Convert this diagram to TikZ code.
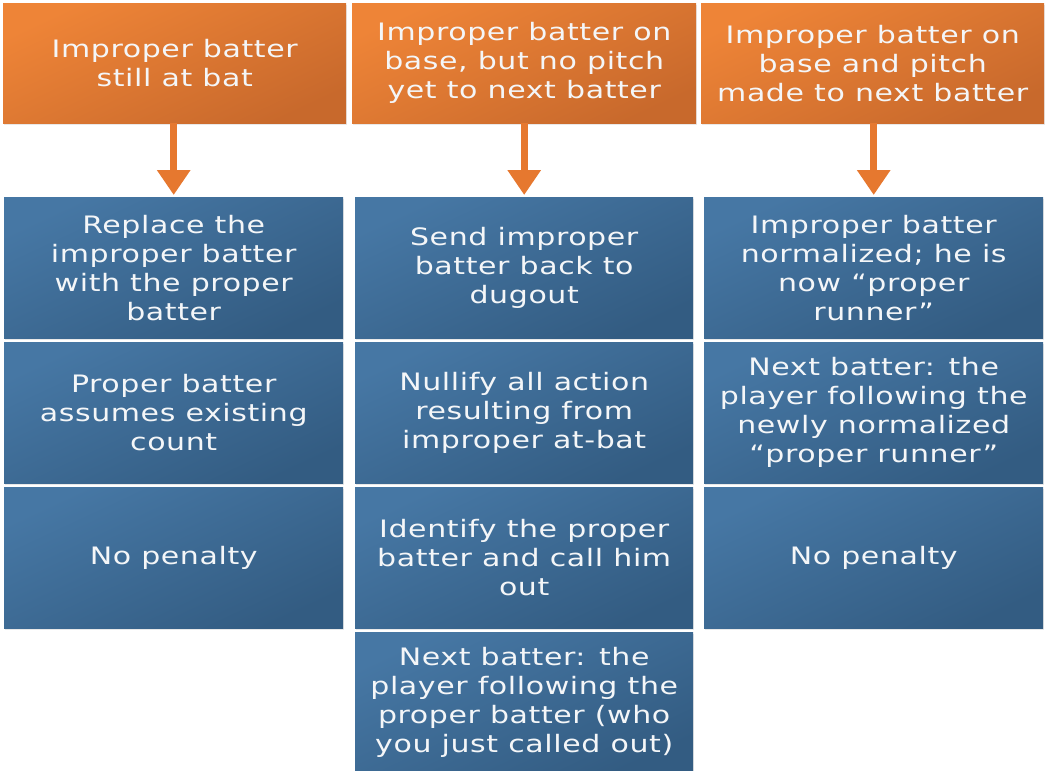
\documentclass[tikz,border=0pt]{standalone}
\usepackage{fontspec}
\setmainfont{DejaVu Sans}[FakeStretch=1.25, LetterSpace=2.5]
\usetikzlibrary{arrows.meta,shadows}
\definecolor{orA}{HTML}{EE8437}
\definecolor{orB}{HTML}{C8692C}
\definecolor{blA}{HTML}{4677A4}
\definecolor{blB}{HTML}{335C82}
\definecolor{arr}{HTML}{E6782F}
\definecolor{txt}{HTML}{F4F6F8}
\begin{document}
\begin{tikzpicture}[x=1pt,y=1pt,
  box/.style={rectangle, anchor=north west, inner sep=0pt, align=center, text=txt,
    font=\fontsize{24}{29}\selectfont,
    drop shadow={opacity=0.18, shadow xshift=0.5pt, shadow yshift=-1.5pt}},
  headbox/.style={box, top color=orA, bottom color=orB, shading angle=25, minimum height=120pt},
  stepbox/.style={box, top color=blA, bottom color=blB, shading angle=25, minimum height=141pt},
  conn/.style={draw=arr, line width=7pt, -{Triangle[width=32pt,length=25pt]}}
]
\useasboundingbox (0,0) rectangle (1045,-771);
% headers
\node[headbox, minimum width=343pt] (h1) at (3,-3) {Improper batter\\still at bat};
\node[headbox, minimum width=344pt] (h2) at (352,-3) {Improper batter on\\base, but no pitch\\yet to next batter};
\node[headbox, minimum width=343pt] (h3) at (701,-3) {Improper batter on\\base and pitch\\made to next batter};
% column 1
\node[stepbox, minimum width=339pt] (a1) at (4,-197) {Replace the\\improper batter\\with the proper\\batter};
\node[stepbox, minimum width=339pt] (a2) at (4,-342) {Proper batter\\assumes existing\\count};
\node[stepbox, minimum width=339pt] (a3) at (4,-487) {No penalty};
% column 2
\node[stepbox, minimum width=338pt] (b1) at (355,-197) {Send improper\\batter back to\\dugout};
\node[stepbox, minimum width=338pt] (b2) at (355,-342) {Nullify all action\\resulting from\\improper at-bat};
\node[stepbox, minimum width=338pt] (b3) at (355,-487) {Identify the proper\\batter and call him\\out};
\node[stepbox, minimum width=338pt] (b4) at (355,-632) {Next batter: the\\player following the\\proper batter (who\\you just called out)};
% column 3
\node[stepbox, minimum width=339pt] (c1) at (704,-197) {Improper batter\\normalized; he is\\now “proper\\runner”};
\node[stepbox, minimum width=339pt] (c2) at (704,-342) {Next batter: the\\player following the\\newly normalized\\“proper runner”};
\node[stepbox, minimum width=339pt] (c3) at (704,-487) {No penalty};
% arrows
\draw[conn] (a1.north |- h1.south) -- ([yshift=2pt]a1.north);
\draw[conn] (b1.north |- h2.south) -- ([yshift=2pt]b1.north);
\draw[conn] (c1.north |- h3.south) -- ([yshift=2pt]c1.north);
\end{tikzpicture}
\end{document}
